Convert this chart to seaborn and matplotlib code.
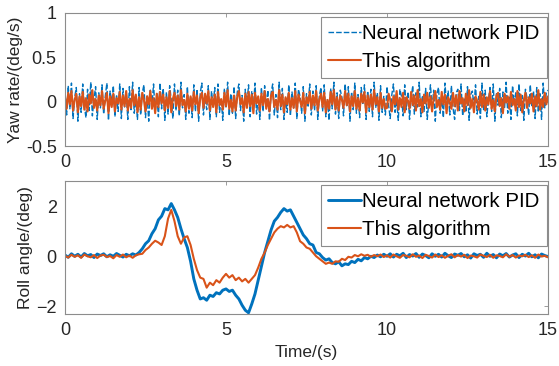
import numpy as np
import pandas as pd
import matplotlib
matplotlib.use("Agg")
import matplotlib.pyplot as plt
import seaborn as sns

# ---------------- data ----------------
yaw_nn_pid = [
    0.12,-0.15,0.18,-0.08,0.21,-0.19,0.05,0.16,-0.22,0.09,-0.12,0.2,-0.05,-0.18,0.14,-0.1,0.22,-0.16,0.03,0.17,
    -0.2,0.1,-0.07,0.19,-0.14,0.06,0.21,-0.21,0.12,-0.03,0.18,-0.17,0.08,-0.11,0.2,-0.19,0.15,-0.06,0.11,-0.2,
    0.17,-0.09,0.22,-0.13,0.04,-0.2,0.16,-0.15,0.1,0.19,-0.18,0.07,-0.22,0.13,-0.04,0.2,-0.12,0.09,-0.17,0.21,
    -0.08,0.15,-0.21,0.11,-0.14,0.18,0.02,-0.19,0.2,-0.1,0.13,-0.16,0.22,-0.07,0.08,-0.2,0.17,-0.13,0.05,-0.18,
    0.19,-0.11,0.14,-0.22,0.1,0.21,-0.15,0.06,-0.09,0.18,-0.2,0.12,-0.05,0.16,-0.17,0.2,-0.12,0.03,-0.21,0.15,
    -0.06,0.22,-0.16,0.09,-0.13,0.17,-0.19,0.11,0.2,-0.1,0.07,-0.22,0.14,-0.03,0.19,-0.17,0.12,-0.08,0.21,-0.14,
    0.05,-0.2,0.16,-0.11,0.18,-0.04,0.13,-0.21,0.1,0.2,-0.15,0.08,-0.18,0.22,-0.09,0.15,-0.2,0.04,-0.12,0.19,
    -0.16,0.11,-0.07,0.21,-0.19,0.14,0.06,-0.13,0.17,-0.22,0.09,-0.05,0.2,-0.15,0.12,-0.1,0.18,-0.2,0.07,0.16,
    -0.11,0.19,-0.17,0.03,-0.21,0.15,-0.08,0.22,-0.14,0.1,-0.19,0.13,0.05,-0.16,0.2,-0.06,0.17,-0.22,0.11,-0.09,
    0.21,-0.13,0.08,-0.18,0.16,-0.02,0.19,-0.2,0.12,-0.11,0.14,-0.17,0.22,-0.07,0.1,-0.21,0.18,-0.12,0.06,-0.15,
    0.17,-0.04,-0.19,0.08,0.2,-0.12,0.02,-0.21,0.14,0.06,-0.16,0.19,-0.09,0.11,-0.2,0.04,0.18,-0.14,0.1,-0.06,
    0.22,-0.17,0.07,-0.11,0.15,-0.2,0.01,0.19,-0.08,0.13,-0.22,0.09,0.16,-0.13,0.05,-0.18,0.21,-0.03,0.12,-0.15,
    0.18,-0.07,-0.2,0.1,0.14,-0.1,0.2,-0.16,0.03,-0.12,0.17,-0.21,0.08,0.12,-0.05,0.19,-0.14,0.06,-0.19,0.21,
    -0.09,0.13,-0.17,0.02,0.16,-0.11,0.2,-0.22,0.09,-0.04,0.15,-0.18,0.11,-0.08,0.22,-0.13,0.05,-0.2,0.18,-0.02,
    0.1,-0.16,0.2,-0.1,0.07,-0.21,0.14,0.04,-0.15,0.19,-0.06,0.12,-0.19,0.16,-0.12,0.09,-0.2,0.21,-0.07,0.11,
    0.13,
]
yaw_this = [
    0.05,-0.08,0.1,-0.03,0.12,-0.1,0.02,0.09,-0.12,0.06,-0.05,0.11,-0.09,0.04,-0.11,0.08,-0.02,0.13,-0.07,0.03,
    -0.1,0.07,-0.04,0.12,-0.08,0.01,0.1,-0.13,0.06,-0.06,0.09,-0.11,0.04,-0.02,0.11,-0.09,0.07,-0.05,0.12,-0.1,
    0.03,-0.07,0.13,-0.04,0.08,-0.12,0.05,-0.09,0.1,0.02,-0.11,0.06,-0.03,0.12,-0.08,0.04,-0.13,0.09,-0.06,0.11,
    -0.02,0.08,-0.1,0.05,-0.07,0.12,-0.12,0.03,0.1,-0.05,0.07,-0.09,0.13,-0.04,0.02,-0.11,0.09,-0.08,0.06,-0.1,
    0.11,-0.03,0.07,-0.13,0.04,0.1,-0.07,0.09,-0.02,0.12,-0.1,0.05,-0.06,0.08,-0.12,0.11,-0.04,0.03,-0.09,0.1,
    -0.05,0.13,-0.08,0.02,-0.11,0.07,-0.1,0.06,0.12,-0.03,0.04,-0.12,0.09,-0.07,0.11,-0.05,0.08,-0.13,0.1,-0.02,
    0.06,-0.1,0.09,-0.04,0.12,-0.08,0.03,-0.11,0.07,0.11,-0.06,0.02,-0.09,0.13,-0.05,0.08,-0.12,0.05,-0.03,0.1,
    -0.09,0.04,-0.07,0.12,-0.11,0.08,0.01,-0.06,0.1,-0.13,0.05,-0.02,0.11,-0.08,0.07,-0.04,0.12,-0.1,0.03,0.09,
    -0.06,0.1,-0.12,0.02,-0.08,0.11,-0.03,0.13,-0.09,0.05,-0.1,0.07,0.02,-0.07,0.12,-0.04,0.09,-0.11,0.06,-0.05,
    0.12,-0.08,0.04,-0.1,0.09,-0.01,0.11,-0.12,0.07,-0.06,0.08,-0.09,0.13,-0.03,0.05,-0.11,0.1,-0.07,0.03,-0.08,
    -0.07,0.09,0.02,-0.11,0.06,-0.03,0.12,-0.09,0.04,-0.06,0.1,-0.12,0.05,0.01,-0.08,0.11,-0.04,0.07,-0.1,0.13,
    -0.05,0.03,-0.12,0.08,-0.02,0.1,-0.07,0.06,-0.11,0.04,0.12,-0.06,0.02,-0.09,0.11,-0.03,0.08,-0.13,0.05,0.0,
    -0.08,0.1,-0.05,0.07,-0.1,0.12,-0.02,0.04,-0.11,0.09,-0.04,0.13,-0.07,0.03,-0.12,0.06,0.01,-0.09,0.11,-0.06,
    0.08,-0.1,0.05,-0.03,0.12,-0.08,0.02,-0.11,0.07,0.1,-0.05,0.04,-0.13,0.09,-0.01,0.06,-0.08,0.11,-0.04,0.03,
    -0.1,0.12,-0.06,0.08,-0.12,0.02,0.1,-0.07,0.05,-0.02,0.09,-0.11,0.06,-0.05,0.13,-0.09,0.03,-0.06,0.1,-0.03,
    0.06,
]
roll_nn_pid = [
    0.05,-0.04,0.1,0.0,0.08,-0.03,0.11,0.02,0.07,-0.05,0.09,0.03,0.1,-0.02,0.06,0.0,0.11,0.04,-0.03,0.08,
    0.02,0.1,0.05,
    0.15,0.3,0.5,0.62,0.9,1.1,1.45,1.6,1.9,1.85,2.1,1.85,1.55,1.1,0.7,0.35,-0.2,
    -0.9,-1.35,-1.7,-1.65,-1.75,-1.55,-1.6,-1.45,-1.5,-1.35,-1.3,-1.4,-1.35,-1.55,-1.7,-1.95,-2.15,-2.25,-1.9,-1.5,
    -0.95,-0.4,0.15,0.6,1.05,1.4,1.55,1.75,1.9,1.8,1.85,1.6,1.35,1.1,0.85,0.7,0.5,0.45,0.15,0.1,
    -0.05,-0.15,-0.1,-0.25,-0.3,-0.22,-0.38,-0.3,-0.33,-0.2,-0.25,-0.12,-0.18,-0.05,-0.1,0.0,-0.05,0.05,-0.02,0.08,
    0.0,0.1,-0.03,0.08,0.02,0.12,-0.05,0.07,0.01,0.11,-0.04,0.09,0.03,-0.06,0.1,0.0,0.08,-0.03,0.12,0.02,
    -0.05,0.09,0.04,0.11,-0.02,0.06,-0.07,0.1,0.03,0.08,-0.04,0.12,0.0,0.07,-0.06,0.09,0.02,0.11,-0.03,0.05,
    0.1,-0.05,0.08,0.01,0.12,-0.02,0.06,-0.06,0.09,0.03,-0.01,
]
roll_this = [
    0.02,-0.05,0.06,-0.02,0.04,-0.06,0.07,0.0,-0.04,0.05,-0.07,0.03,0.06,-0.03,0.01,-0.08,0.05,-0.02,0.07,-0.04,
    0.03,-0.06,0.04,0.08,0.1,
    0.25,0.35,0.5,0.62,0.55,0.45,0.8,1.5,1.85,1.4,0.8,0.5,0.75,0.8,0.45,
    -0.1,-0.55,-0.85,-0.9,-1.25,-1.05,-1.15,-0.95,-1.05,-0.85,-0.7,-0.85,-0.75,-0.95,-0.85,-1.0,-0.9,-1.05,-0.9,-0.75,
    -0.45,-0.1,0.15,0.45,0.7,0.95,1.1,1.2,1.15,1.25,1.15,1.2,0.95,0.6,0.5,0.35,0.3,0.15,0.0,-0.1,
    -0.2,-0.3,-0.25,-0.3,-0.2,-0.22,-0.1,-0.15,-0.02,-0.05,0.05,0.0,0.08,0.02,0.06,-0.02,0.05,0.0,0.07,-0.03,
    0.04,-0.05,0.07,0.0,-0.06,0.05,0.02,-0.04,0.08,-0.02,0.03,-0.07,0.06,0.01,-0.05,0.07,-0.03,0.04,-0.06,0.02,
    0.08,-0.04,0.05,-0.01,0.06,-0.07,0.03,0.0,-0.05,0.07,0.02,-0.03,0.06,-0.06,0.04,0.01,-0.04,0.08,-0.02,0.05,
    -0.05,0.03,0.0,0.06,-0.03,0.04,-0.06,0.07,-0.01,0.02,-0.04,
]
t_end = 15.0
labels = ["Neural network PID", "This algorithm"]
x_ticks = [0, 5, 10, 15]
yaw_ticks = [-0.5, 0, 0.5, 1]
roll_ticks = [-2, 0, 2]

t_yaw = np.linspace(0, t_end, len(yaw_nn_pid))
t_roll = np.linspace(0, t_end, len(roll_nn_pid))
assert len(yaw_this) == len(yaw_nn_pid) and len(roll_this) == len(roll_nn_pid)

# ---------------- style ----------------
sns.set_style("white")
plt.rcParams["font.family"] = ["Liberation Sans", "DejaVu Sans"]
blue = "#0072BD"
orange = "#D95319"
txt = "#262626"
spine = "#8c8c8c"

fig = plt.figure(figsize=(5.59, 3.66), dpi=100)
ax1 = fig.add_axes([0.1163, 0.601, 0.8640, 0.3635])
ax2 = fig.add_axes([0.1163, 0.142, 0.8640, 0.3635])

sns.lineplot(x=t_yaw, y=yaw_nn_pid, ax=ax1, color=blue, linewidth=1.0,
             dashes=False, linestyle=(0, (4, 1.5)), label=labels[0], estimator=None)
sns.lineplot(x=t_yaw, y=yaw_this, ax=ax1, color=orange, linewidth=1.5,
             label=labels[1], estimator=None)
sns.lineplot(x=t_roll, y=roll_nn_pid, ax=ax2, color=blue, linewidth=2.1,
             label=labels[0], estimator=None)
sns.lineplot(x=t_roll, y=roll_this, ax=ax2, color=orange, linewidth=1.5,
             label=labels[1], estimator=None)

ax1.set_xlim(0, t_end)
ax1.set_ylim(-0.5, 1)
ax1.set_yticks(yaw_ticks)
ax1.set_yticklabels(["-0.5", "0", "0.5", "1"])
ax2.set_xlim(0, t_end)
ax2.set_ylim(-2.3, 3)
ax2.set_yticks(roll_ticks)
for ax in (ax1, ax2):
    ax.set_xticks(x_ticks)
    ax.set_xticklabels([str(v) for v in x_ticks])
    ax.tick_params(direction="in", length=3, width=0.6, colors=spine,
                   labelcolor=txt, labelsize=13, top=True, right=True, pad=6)
    for s in ax.spines.values():
        s.set_color(spine)
        s.set_linewidth(0.8)
    leg = ax.legend(loc="upper right", bbox_to_anchor=(0.997, 0.97),
                    borderaxespad=0, fontsize=14.8, handlelength=1.6,
                    handletextpad=0.05, borderpad=0.35, labelspacing=0.42,
                    frameon=True, fancybox=False, framealpha=1)
    leg.get_frame().set_edgecolor(spine)
    leg.get_frame().set_linewidth(0.8)
    for tx in leg.get_texts():
        tx.set_color("black")

ax1.set_ylabel("Yaw rate/(deg/s)", fontsize=12.5, color=txt, labelpad=2)
ax2.set_ylabel("Roll angle/(deg)", fontsize=12.5, color=txt, labelpad=2)
ax2.set_xlabel("Time/(s)", fontsize=12.5, color=txt, labelpad=4)
ax1.set_xlabel("")

fig.savefig("out.png", dpi=100)
